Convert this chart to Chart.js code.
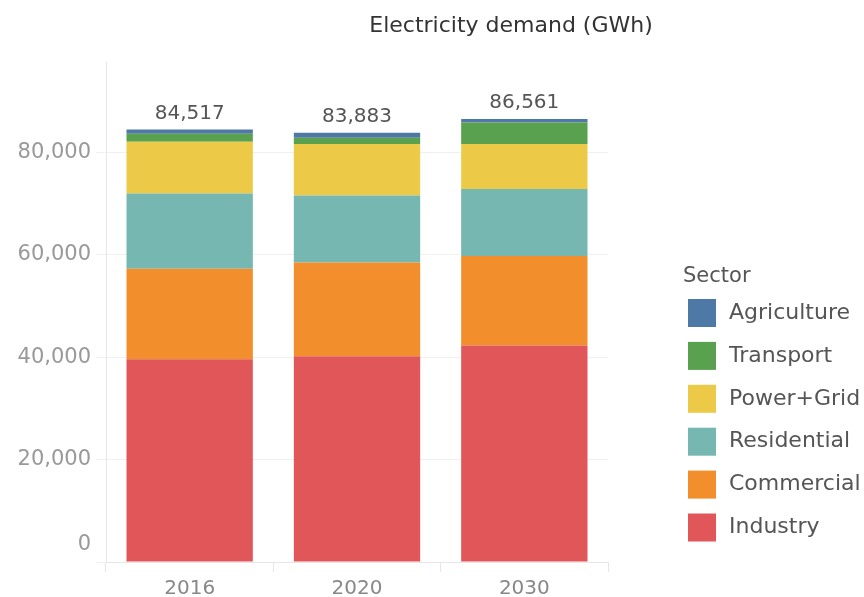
<!DOCTYPE html>
<html>
<head>
<meta charset="utf-8">
<script src="https://cdn.jsdelivr.net/npm/chart.js@4.4.1/dist/chart.umd.min.js"></script>
<style>
  html, body { margin: 0; padding: 0; background: #fff; }
  #wrap { width: 864px; height: 597px; }
</style>
</head>
<body>
<div id="wrap"><canvas id="demandChart" width="864" height="597"></canvas></div>
<script>
// Electricity demand (GWh) by sector
const years = ['2016', '2020', '2030'];
const sectors = ['Industry', 'Commercial', 'Residential', 'Power+Grid', 'Transport', 'Agriculture'];
const industry    = [39600, 40200, 42300];
const commercial  = [17700, 18300, 17500];
const residential = [14700, 13100, 13100];
const powerGrid   = [10100, 10100, 8800];
const transport   = [1600, 1200, 4200];
const agriculture = [817, 983, 661];
const yTicks = [0, 20000, 40000, 60000, 80000];

const colors = ['#e15759', '#f28e2b', '#76b7b2', '#edc948', '#59a14f', '#4e79a7'];
const series = [industry, commercial, residential, powerGrid, transport, agriculture];

const FONT = '"DejaVu Sans", sans-serif';
const fmt = v => v.toLocaleString('en-US');

// totals above each bar + title + legend on the right
const extras = {
    id: 'extras',
    afterDraw(chart) {
        const ctx = chart.ctx;
        const x = chart.scales.x, y = chart.scales.y;
        ctx.save();

        // "0" tick label sits a bit above the baseline, like the original
        ctx.font = '21px ' + FONT;
        ctx.fillStyle = '#999';
        ctx.textAlign = 'right';
        ctx.textBaseline = 'middle';
        ctx.fillText(fmt(yTicks[0]), y.right - 15, y.getPixelForValue(yTicks[0]) - 17);

        // totals
        ctx.font = '20px ' + FONT;
        ctx.fillStyle = '#555';
        ctx.textAlign = 'center';
        ctx.textBaseline = 'bottom';
        years.forEach((yr, i) => {
            const total = series.reduce((s, arr) => s + arr[i], 0);
            ctx.fillText(fmt(total), x.getPixelForValue(i), y.getPixelForValue(total) - 6);
        });

        // title
        ctx.font = '22px ' + FONT;
        ctx.fillStyle = '#333';
        ctx.textBaseline = 'middle';
        ctx.fillText('Electricity demand (GWh)', 511, 26);

        // legend
        const lx = chart.chartArea.right + 75;
        ctx.textAlign = 'left';
        ctx.font = '21px ' + FONT;
        ctx.fillStyle = '#555';
        ctx.fillText('Sector', lx, 277);
        ctx.font = '22px ' + FONT;
        const ds = chart.data.datasets.slice().reverse();
        ds.forEach((d, k) => {
            const top = 299 + k * 42.9;
            ctx.fillStyle = d.backgroundColor;
            ctx.fillRect(lx + 5, top, 28, 28);
            ctx.fillStyle = '#555';
            ctx.fillText(d.label, lx + 46, top + 14);
        });
        ctx.restore();
    }
};

new Chart(document.getElementById('demandChart'), {
    type: 'bar',
    data: {
        labels: years,
        datasets: sectors.map((s, i) => ({
            label: s,
            data: series[i],
            backgroundColor: colors[i],
            borderWidth: 0,
            categoryPercentage: 1,
            barPercentage: 0.755
        }))
    },
    options: {
        responsive: false,
        animation: false,
        layout: { padding: { top: 62, right: 256, left: 0, bottom: 0 } },
        plugins: {
            legend: { display: false },
            tooltip: { enabled: false }
        },
        scales: {
            x: {
                stacked: true,
                afterFit: s => { s.height = 35; },
                grid: {
                    offset: true,
                    drawOnChartArea: false,
                    tickLength: 10,
                    color: '#e6e6e6'
                },
                border: { color: '#e6e6e6' },
                ticks: { color: '#888', font: { family: FONT, size: 20 }, padding: 5 }
            },
            y: {
                stacked: true,
                min: 0,
                max: 97700,
                afterFit: s => { s.width = 106; },
                afterBuildTicks: s => { s.ticks = yTicks.map(v => ({ value: v })); },
                grid: { color: '#f0f0f0', tickLength: 10 },
                border: { color: '#e6e6e6' },
                ticks: {
                    color: '#999',
                    font: { family: FONT, size: 21 },
                    padding: 5,
                    callback: v => (v === 0 ? '' : fmt(v))
                }
            }
        }
    },
    plugins: [extras]
});
</script>
</body>
</html>
